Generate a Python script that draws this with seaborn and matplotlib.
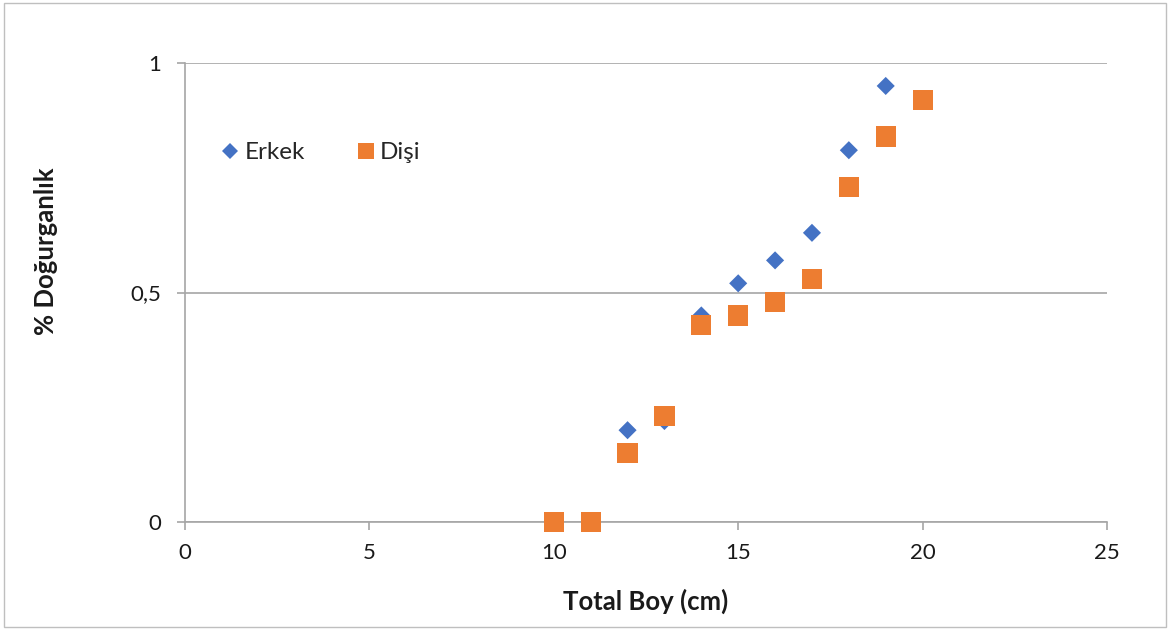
import matplotlib
matplotlib.use("Agg")
import matplotlib.pyplot as plt
import seaborn as sns
import pandas as pd
from matplotlib.patches import Rectangle
from matplotlib.lines import Line2D

# Fertility ratio by total length
erkek_boy = [12, 13, 14, 15, 16, 17, 18, 19]
erkek_oran = [0.20, 0.22, 0.45, 0.52, 0.57, 0.63, 0.81, 0.95]
disi_boy = [10, 11, 12, 13, 14, 15, 16, 17, 18, 19, 20]
disi_oran = [0.0, 0.0, 0.15, 0.23, 0.43, 0.45, 0.48, 0.53, 0.73, 0.84, 0.92]

x_ticks = [0, 5, 10, 15, 20, 25]
y_ticks = [0, 0.5, 1]
y_tick_labels = ["0", "0,5", "1"]

sns.set_theme(style="white")
plt.rcParams["font.family"] = ["Lato", "DejaVu Sans"]

blue = "#4472C4"
orange = "#ED7D31"
text_col = "#1a1a1a"
axis_col = "#A6A6A6"

df_e = pd.DataFrame({"boy": erkek_boy, "oran": erkek_oran})
df_d = pd.DataFrame({"boy": disi_boy, "oran": disi_oran})

fig = plt.figure(figsize=(11.71, 6.30), dpi=100)
ax = fig.add_axes([185 / 1171, 108 / 630, 922 / 1171, 459 / 630])

sns.scatterplot(data=df_e, x="boy", y="oran", marker="D", s=85, color=blue,
                edgecolor="none", ax=ax, zorder=3, clip_on=False)
sns.scatterplot(data=df_d, x="boy", y="oran", marker="s", s=210, color=orange,
                edgecolor="none", ax=ax, zorder=4, clip_on=False)

ax.set_xlim(0, 25)
ax.set_ylim(0, 1)
ax.set_xticks(x_ticks)
ax.set_xticklabels([str(v) for v in x_ticks])
ax.set_yticks(y_ticks)
ax.set_yticklabels(y_tick_labels)
ax.yaxis.grid(True, color=axis_col, linewidth=1.2)
ax.set_axisbelow(True)
for side in ["right", "top"]:
    ax.spines[side].set_visible(False)
for side in ["bottom", "left"]:
    ax.spines[side].set_color(axis_col)
    ax.spines[side].set_linewidth(1.2)
ax.tick_params(axis="x", which="major", bottom=True, length=6, width=1.2,
               color=axis_col, labelsize=16, labelcolor=text_col, pad=9)
ax.tick_params(axis="y", which="major", left=True, length=6, width=1.2,
               color=axis_col, labelsize=16, labelcolor=text_col, pad=11)

ax.set_xlabel("Total Boy (cm)", fontsize=18.5, fontweight="bold", color=text_col)
ax.xaxis.set_label_coords(0.5, -0.145)
ax.set_ylabel("% Doğurganlık", fontsize=18.5, fontweight="bold", color=text_col)
ax.yaxis.set_label_coords(-0.138, 0.59)

handles = [
    Line2D([], [], marker="D", linestyle="none", color=blue, markersize=8, markeredgewidth=0),
    Line2D([], [], marker="s", linestyle="none", color=orange, markersize=11, markeredgewidth=0),
]
ax.legend(handles, ["Erkek", "Dişi"], ncol=2, frameon=False, fontsize=17.5,
          loc="center left", bbox_to_anchor=(0.017, 0.805), handlelength=0.6,
          handletextpad=0.3, columnspacing=2.2)

fig.patches.append(Rectangle((4 / 1171, 3 / 630), 1162 / 1171, 624 / 630,
                             transform=fig.transFigure, fill=False,
                             edgecolor="#BFBFBF", linewidth=1.0))

fig.savefig("out.png", dpi=100)
